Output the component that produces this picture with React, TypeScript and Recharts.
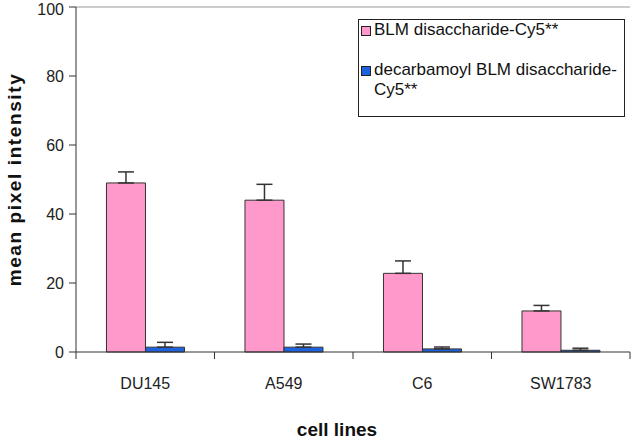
import React from "react";
import {
  BarChart,
  Bar,
  XAxis,
  YAxis,
  ErrorBar,
  Legend,
  ReferenceLine,
} from "recharts";

const cellLines = ["DU145", "A549", "C6", "SW1783"];
const blmValues = [49, 44, 22.8, 11.9];
const blmErrors = [3.2, 4.6, 3.6, 1.6];
const decarbValues = [1.4, 1.4, 0.9, 0.5];
const decarbErrors = [1.4, 0.9, 0.55, 0.6];
const yTicks = [0, 20, 40, 60, 80, 100];

const W = 631;
const H = 440;
const MARGIN = { top: 7, right: 1, bottom: 28, left: 16 };
const Y_AXIS_W = 60;
const X_AXIS_H = 60;
const PLOT_LEFT = MARGIN.left + Y_AXIS_W;
const PLOT_RIGHT = W - MARGIN.right;
const PLOT_BOTTOM = H - MARGIN.bottom - X_AXIS_H;
const BAND = (PLOT_RIGHT - PLOT_LEFT) / cellLines.length;

const FONT = "'Liberation Sans', Arial, sans-serif";
const AXIS = "#333";

const data = cellLines.map((name, i) => ({
  name,
  blm: blmValues[i],
  blmErr: [0, blmErrors[i]],
  decarb: decarbValues[i],
  decarbErr: [0, decarbErrors[i]],
}));

// category labels centred, tick marks on the boundaries between categories
function CategoryTick(props: any) {
  const { x, payload, index } = props;
  const right = x + BAND / 2;
  return (
    <g>
      <line x1={right} y1={PLOT_BOTTOM} x2={right} y2={PLOT_BOTTOM + 7} stroke={AXIS} />
      {index === 0 && (
        <line x1={x - BAND / 2} y1={PLOT_BOTTOM} x2={x - BAND / 2} y2={PLOT_BOTTOM + 7} stroke={AXIS} />
      )}
      <text x={x} y={PLOT_BOTTOM + 26} dy="0.71em" textAnchor="middle" fontSize={16} fill="#222">
        {payload.value}
      </text>
    </g>
  );
}

function YLabel(props: any) {
  const vb = props.viewBox;
  const cx = vb.x - 2;
  const cy = vb.y + vb.height / 2;
  return (
    <text
      x={cx}
      y={cy}
      transform={`rotate(-90, ${cx}, ${cy})`}
      textAnchor="middle"
      dominantBaseline="central"
      fontSize={19}
      fontWeight="bold"
      letterSpacing={1.6}
      fill="#111"
    >
      mean pixel intensity
    </text>
  );
}

function XLabel(props: any) {
  const vb = props.viewBox;
  return (
    <text
      x={vb.x + vb.width / 2 - 16}
      y={H - 4}
      textAnchor="middle"
      fontSize={19}
      fontWeight="bold"
      fill="#111"
    >
      cell lines
    </text>
  );
}

function LegendBox(props: any) {
  const items = props.payload || [];
  return (
    <div
      style={{
        boxSizing: "border-box",
        width: 267,
        height: 98,
        border: "1px solid #222",
        background: "#fff",
        padding: "0 1px 0 2px",
        fontFamily: FONT,
        fontSize: 17,
        lineHeight: "20px",
        color: "#111",
      }}
    >
      {items.map((item: any, i: number) => (
        <div
          key={item.value}
          style={{ display: "flex", alignItems: "flex-start", marginTop: i === 0 ? 0 : 20 }}
        >
          <span
            style={{
              flex: "none",
              boxSizing: "border-box",
              width: 10,
              height: 10,
              marginTop: 6,
              marginRight: 3,
              background: item.color,
              border: "1px solid #222",
            }}
          />
          <span>{item.value}</span>
        </div>
      ))}
    </div>
  );
}

export default function App() {
  return (
    <div style={{ position: "absolute", left: 0, top: 0, fontFamily: FONT, background: "#fff" }}>
      <BarChart
        width={W}
        height={H}
        data={data}
        margin={MARGIN}
        barCategoryGap="22%"
        barGap={0}
      >
        <XAxis
          dataKey="name"
          height={X_AXIS_H}
          stroke={AXIS}
          tickLine={false}
          interval={0}
          tick={<CategoryTick />}
          label={<XLabel />}
        />
        <YAxis
          width={Y_AXIS_W}
          domain={[0, 100]}
          ticks={yTicks}
          stroke={AXIS}
          tickSize={7}
          tickMargin={5}
          tick={{ fontSize: 16, fill: "#222" }}
          label={<YLabel />}
        />
        <YAxis
          yAxisId="frame"
          orientation="right"
          width={0}
          domain={[0, 100]}
          tick={false}
          tickLine={false}
          axisLine={{ stroke: "#999" }}
        />
        <ReferenceLine y={100} stroke="#999" />
        <Legend
          layout="horizontal"
          verticalAlign="middle"
          wrapperStyle={{ left: 358, top: 19, width: 267, height: 98 }}
          content={<LegendBox />}
        />
        <Bar
          dataKey="blm"
          name="BLM disaccharide-Cy5**"
          fill="#FF99CC"
          stroke="#333"
          strokeWidth={1}
          isAnimationActive={false}
        >
          <ErrorBar dataKey="blmErr" direction="y" width={8} stroke="#333" strokeWidth={1.5} isAnimationActive={false} />
        </Bar>
        <Bar
          dataKey="decarb"
          name="decarbamoyl BLM disaccharide-Cy5**"
          fill="#1F62E0"
          stroke="#333"
          strokeWidth={1}
          isAnimationActive={false}
        >
          <ErrorBar dataKey="decarbErr" direction="y" width={8} stroke="#333" strokeWidth={1.5} isAnimationActive={false} />
        </Bar>
      </BarChart>
    </div>
  );
}
